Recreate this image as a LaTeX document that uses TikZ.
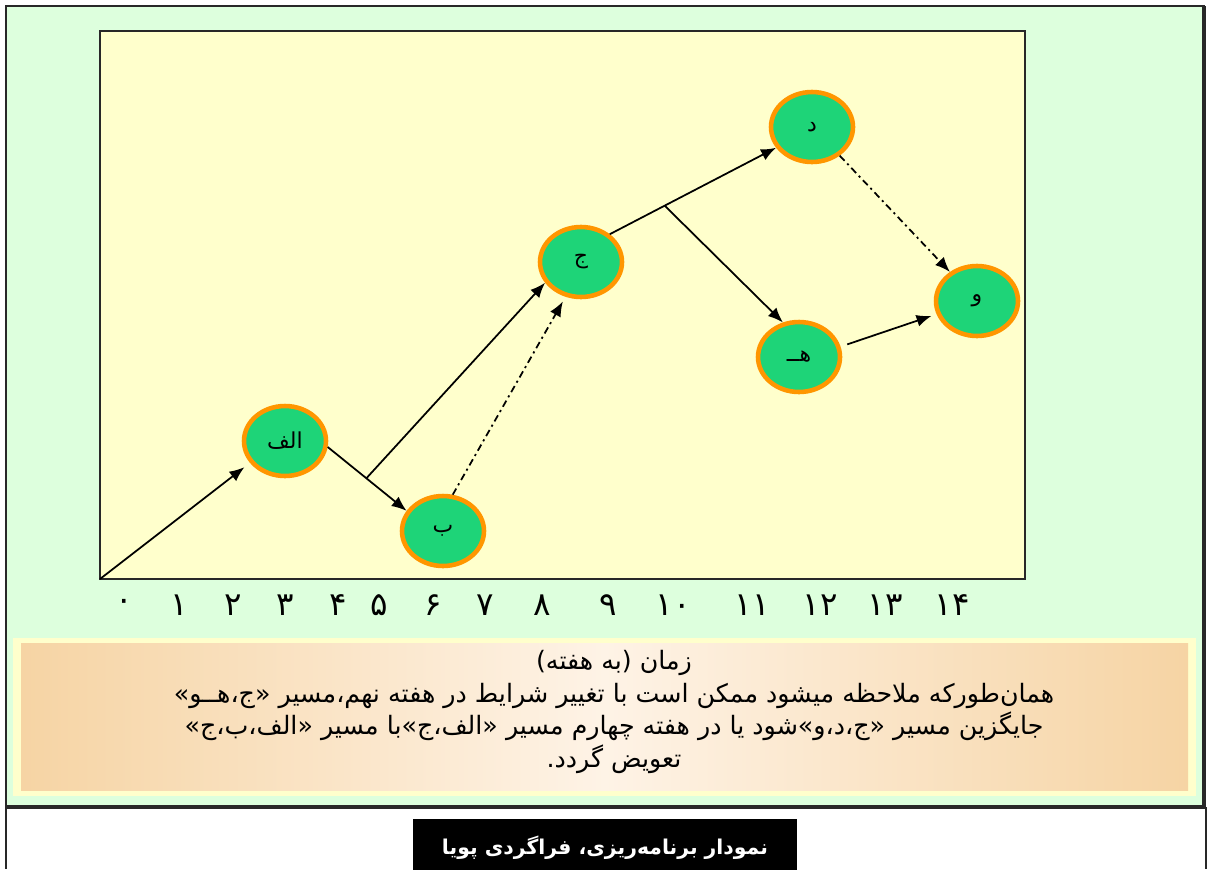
\documentclass[tikz,border=0pt]{standalone}
\usepackage{fontspec}
\usetikzlibrary{arrows.meta,shapes.geometric,calc}
\newfontfamily\arabicfont[Script=Arabic]{DejaVu Sans}
\TeXXeTstate=1
\definecolor{panel}{RGB}{221,255,221}
\definecolor{plot}{RGB}{255,255,204}
\definecolor{evtfill}{RGB}{30,212,120}
\definecolor{evtline}{RGB}{255,150,0}
\definecolor{capedge}{RGB}{246,212,164}
\definecolor{capmid}{RGB}{254,243,230}
\definecolor{frame}{RGB}{40,40,40}
\tikzset{
  evt/.style={ellipse,draw=evtline,line width=2.6pt,fill=evtfill,minimum width=1.64cm,minimum height=1.40cm,inner sep=0pt,font=\arabicfont\fontsize{12.5}{14}\selectfont},
  flow/.style={-{Latex[length=3mm,width=2.4mm]},line width=1pt,draw=black},
  alt/.style={flow,dash pattern=on 4pt off 2.2pt on 1.2pt off 2.2pt},
  wk/.style={font=\arabicfont\fontsize{18.5}{20}\selectfont,inner sep=0pt},
  notebox/.style={font=\arabicfont\fontsize{14.4}{18.7}\selectfont,align=center,inner sep=0pt}
}
\begin{document}
\begin{tikzpicture}[x=0.02cm,y=-0.02cm]
\useasboundingbox (0,0) rectangle (1209,869);
\fill[white] (0,0) rectangle (1209,869);
\draw[fill=panel,draw=frame,line width=1.2pt] (6,6) rectangle (1204,807);
\draw[frame,line width=1.8pt] (1204,6) -- (1204,807) -- (6,807);
\draw[frame,line width=1pt] (6,807) -- (6,869);
\draw[frame,line width=1pt] (1206,807) -- (1206,869);
\draw[fill=plot,draw=frame,line width=1pt] (100,31) rectangle (1025,579);
\coordinate (origin) at (100,579);

\foreach \x/\d [count=\i from 0] in {124/۰,179/۱,233/۲,285/۳,338/۴,379/۵,433/۶,485/۷,542/۸,608/۹,673/۱۰,752/۱۱,820/۱۲,885/۱۳,952/۱۴}
  \node[wk] (wk\i) at (\x,605) {\d};

\node[evt] (alef) at (285,441) {\beginR الف\endR};
\node[evt] (be) at (443,531) {\beginR ب\endR};
\node[evt] (jim) at (581,262) {\beginR ج\endR};
\node[evt] (dal) at (812,127) {\beginR د\endR};
\node[evt] (he) at (799,357) {\beginR هــ\endR};
\node[evt] (vav) at (977,301) {\beginR و\endR};

\draw[flow,shorten >=4pt] (origin) -- (alef.212);
\draw[flow] (alef.-8) -- (be.151);
\coordinate (fork1) at ($(alef.-8)!0.49!(be.151)$);
\draw[flow] (fork1) -- (jim.210);
\draw[alt,shorten >=3pt] (be.75) -- (jim.246);
\draw[flow] (jim.44) -- (dal.210);
\coordinate (fork2) at ($(jim.44)!0.33!(dal.210)$);
\draw[flow] (fork2) -- (he.115);
\draw[flow,shorten <=4pt,shorten >=3pt] (he.14) -- (vav.198);
\draw[alt] (dal.-46) -- (vav.133);

\fill[plot] (13,638) rectangle (1196,796);
\shade[left color=capedge,right color=capedge,middle color=capmid] (21,643) rectangle (1188,790);
\node[notebox] (note) at (614,712) {\beginR زمان (به هفته)\endR\\
\beginR همان‌طورکه ملاحظه میشود ممکن است با تغییر شرایط در هفته نهم،مسیر «ج،هــو»\endR\\
\beginR جایگزین مسیر «ج،د،و»شود یا در هفته چهارم مسیر «الف،ج»با مسیر «الف،ب،ج»\endR\\
\beginR تعویض گردد.\endR};

\node[fill=black,text=white,minimum width=7.68cm,minimum height=1.12cm,inner sep=0pt,font=\arabicfont\bfseries\fontsize{11.6}{14}\selectfont,anchor=north] (title) at (605,819) {\beginR نمودار برنامه‌ریزی، فراگردی پویا\endR};
\end{tikzpicture}
\end{document}
